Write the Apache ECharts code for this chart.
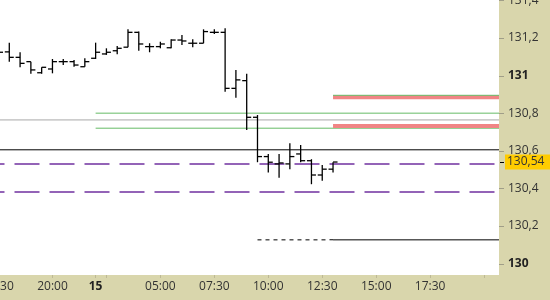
<!DOCTYPE html>
<html><head><meta charset="utf-8">
<script src="https://cdn.jsdelivr.net/npm/echarts@6/dist/echarts.min.js"></script>
<style>html,body{margin:0;padding:0;background:#d9d6ac}#c{width:550px;height:300px}</style>
</head><body><div id="c"></div>
<script>
// ---- data ----
const barIndex = [-1,0,1,2,3,4,5,6,7,8,9,10,11,12,13,14,15,16,17,18,19,20,21,22,23,24,25,26,27,28,29,30];
const barTimes = ['17:30','18:00','18:30','19:00','19:30','20:00','20:30','21:00','21:30','02:00','02:30','03:00','03:30','04:00','04:30','05:00','05:30','06:00','06:30','07:00','07:30','08:00','08:30','09:00','09:30','10:00','10:30','11:00','11:30','12:00','12:30','13:00'];
const opens  = [131.147,131.126,131.097,131.074,131.015,131.035,131.074,131.074,131.047,131.092,131.115,131.132,131.151,131.230,131.154,131.154,131.148,131.189,131.172,131.172,131.230,131.230,130.932,130.973,130.778,130.569,130.530,130.530,130.583,130.547,130.471,130.502];
const highs  = [131.168,131.175,131.124,131.074,131.044,131.088,131.088,131.083,131.092,131.175,131.145,131.157,131.246,131.234,131.172,131.180,131.193,131.216,131.193,131.246,131.246,131.252,131.030,131.009,130.790,130.583,130.583,130.640,130.631,130.555,130.524,130.539];
const lows   = [131.104,131.074,131.044,131.009,131.009,131.012,131.056,131.047,131.047,131.088,131.110,131.113,131.151,131.132,131.124,131.145,131.145,131.163,131.151,131.172,131.221,130.914,130.882,130.711,130.539,130.484,130.457,130.502,130.539,130.422,130.441,130.484];
const closes = [131.124,131.097,131.065,131.030,131.044,131.074,131.074,131.056,131.074,131.124,131.124,131.145,131.230,131.168,131.154,131.168,131.189,131.184,131.172,131.234,131.230,130.932,130.977,130.778,130.569,130.539,130.535,130.569,130.547,130.471,130.502,130.540];

const xLabelPos  = [-1,4,8,14,19,24,29,34,39];
const xLabelText = ['17:30','20:00','15','05:00','07:30','10:00','12:30','15:00','17:30'];
const xTickPos   = [-1,4,8,9,14,19,24,29,34,39,44];
const yTicks     = [130,130.2,130.4,130.6,130.8,131,131.2,131.4];

const lastPrice    = 130.54;
const blackLevel   = 130.605;
const grayLevel    = 130.764;
const purpleLevels = [130.53, 130.38];
const greenLevels  = [130.80, 130.72];
const greenStart   = 8;
const redLevels    = [130.884, 130.732];
const redTopGreen  = 130.895;
const redStart     = 30;
const projLevel    = 130.126;
const projDashStart = 23;
const projSolidStart = 30;

// ---- chart ----
const X_MIN = -1, X_MAX = 45.38;
const Y_MIN = 129.939, Y_MAX = 131.402;
const FONT = 'Open Sans';
const seg = (a, v) => [[a, v], [X_MAX, v]];
const lineSeries = (data, style, z) => ({
  type: 'line', data, symbol: 'none', silent: true, clip: true, z: z || 3,
  lineStyle: style, animation: false
});

const series = [];
series.push(lineSeries(seg(X_MIN, grayLevel), {color:'#a8a8a8', width:1}));
series.push(lineSeries(seg(X_MIN, blackLevel), {color:'#000', width:1}));
purpleLevels.forEach(v => series.push(lineSeries(seg(X_MIN, v), {color:'#7030a0', width:1.5, type:[25,10], dashOffset:19})));
greenLevels.forEach(v => series.push(lineSeries(seg(greenStart, v), {color:'#66bb66', width:1})));
redLevels.forEach(v => series.push(lineSeries(seg(redStart, v), {color:'#f08585', width:4})));
series.push(lineSeries(seg(redStart, redTopGreen), {color:'#66bb66', width:1}, 4));
series.push(lineSeries([[projDashStart, projLevel], [projSolidStart, projLevel]], {color:'#000', width:1, type:[4,4]}));
series.push(lineSeries(seg(projSolidStart, projLevel), {color:'#000', width:1}));

// OHLC bars
series.push({
  type: 'custom',
  clip: true, z: 5, animation: false,
  renderItem(params, api) {
    const x = api.value(0);
    const o = api.coord([x, api.value(1)]);
    const h = api.coord([x, api.value(2)]);
    const l = api.coord([x, api.value(3)]);
    const c = api.coord([x, api.value(4)]);
    const style = {stroke:'#000', lineWidth:1.3};
    return {type:'group', children:[
      {type:'line', shape:{x1:h[0], y1:h[1], x2:l[0], y2:l[1]}, style},
      {type:'line', shape:{x1:o[0]-4.5, y1:o[1], x2:o[0], y2:o[1]}, style},
      {type:'line', shape:{x1:c[0], y1:c[1], x2:c[0]+4.5, y2:c[1]}, style}
    ]};
  },
  encode: {x: 0, y: [1,2,3,4]},
  data: barIndex.map((x, k) => [x, opens[k], highs[k], lows[k], closes[k]])
});

// right axis ticks + last price dash
series.push({
  type: 'custom', clip: false, z: 6, silent: true, animation: false,
  renderItem(params, api) {
    const p = api.coord([X_MAX, api.value(1)]);
    const y = Math.round(p[1]) + 0.5;
    const last = api.value(2) === 1;
    return {type:'line', shape:{x1:p[0] + (last ? 1 : 0), y1:y, x2:p[0]+5, y2:y},
            style:{stroke: last ? '#000' : '#a09e88', lineWidth:1}};
  },
  encode: {x: 0, y: 1},
  data: yTicks.map(v => [X_MAX, v, 0]).concat([[X_MAX, lastPrice, 1]])
});

const chart = echarts.init(document.getElementById('c'), null, {renderer:'canvas'});
chart.setOption({
  animation: false,
  backgroundColor: '#d9d6ac',
  grid: {left: -1.5, right: 51, top: 0, bottom: 25, show: true, backgroundColor: '#fff', borderWidth: 0, outerBoundsMode: 'none', containLabel: false},
  xAxis: {
    type: 'value', min: X_MIN, max: X_MAX,
    axisLine: {show: false},
    splitLine: {show: false},
    axisTick: {show: true, length: 3, customValues: xTickPos, lineStyle: {color: '#bdb995'}},
    axisLabel: {
      customValues: xLabelPos, margin: 6, color: '#333', fontSize: 12, fontFamily: FONT,
      formatter: v => { const k = xLabelPos.indexOf(Math.round(v)); const t = xLabelText[k] || ''; return /:/.test(t) ? t : '{b|' + t + '}'; },
      rich: {b: {fontWeight: 'bold', fontSize: 12, fontFamily: FONT, color: '#222'}}
    }
  },
  yAxis: [{
    type: 'value', position: 'right', min: Y_MIN, max: Y_MAX,
    axisLine: {show: false},
    splitLine: {show: false},
    axisTick: {show: false},
    axisLabel: {
      customValues: yTicks, margin: 9, color: '#333', fontSize: 12, fontFamily: FONT,
      formatter: v => { const s = (+v).toFixed(1); return s.endsWith('.0') ? '{b|' + s.slice(0, -2) + '}' : s.replace('.', ','); },
      rich: {b: {fontWeight: 'bold', fontSize: 12, fontFamily: FONT, color: '#222'}}
    }
  }, {
    type: 'value', position: 'right', min: Y_MIN, max: Y_MAX, z: 20,
    axisLine: {show: false},
    splitLine: {show: false},
    axisTick: {show: false},
    axisLabel: {
      customValues: [lastPrice], margin: 6, color: '#333', fontSize: 12, fontFamily: FONT,
      backgroundColor: '#ffcc00', padding: [2, 6, 1, 2],
      formatter: v => (+v).toFixed(2).replace('.', ',')
    }
  }],
  series
});
</script></body></html>
